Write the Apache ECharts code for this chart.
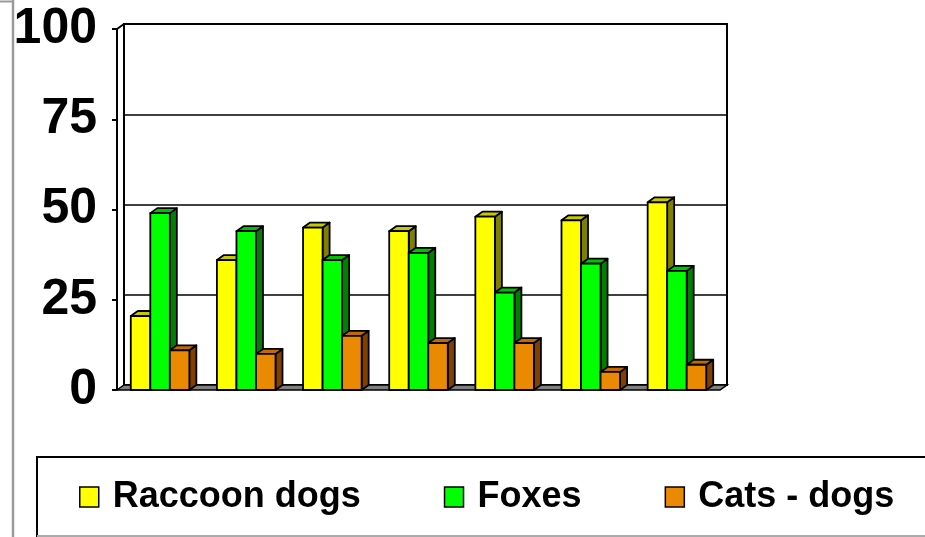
<!DOCTYPE html>
<html>
<head>
<meta charset="utf-8">
<script src="https://cdn.jsdelivr.net/npm/echarts@6/dist/echarts.min.js"></script>
<style>
html,body{margin:0;padding:0;background:#fff;}
#chart{width:925px;height:537px;}
</style>
</head>
<body>
<div id="chart"></div>
<script>
var categories = ['1', '2', '3', '4', '5', '6', '7'];
var seriesNames = ['Raccoon dogs', 'Foxes', 'Cats - dogs'];
var raccoonDogs = [20.5, 36, 45, 44, 48, 47, 52];
var foxes = [49, 44, 36, 38, 27, 35, 33];
var catsDogs = [11, 10, 15, 13, 13, 5, 7];
var yTicks = [0, 25, 50, 75, 100];

var faceColors = [
  {front: '#FFFF00', top: '#C8C800', side: '#808000'},
  {front: '#00FF00', top: '#00C000', side: '#008000'},
  {front: '#EA8A00', top: '#C06A00', side: '#804000'}
];
var DX = 7, DY = -5;
var BAR_SHARE = 0.68;

function barRender(si) {
  return function (params, api) {
    var cat = api.value(0), val = api.value(1);
    var base = api.coord([cat, 0]);
    var top = api.coord([cat, val]);
    var band = api.size([1, 0])[0];
    var bw = band * BAR_SHARE / 3;
    var x0 = base[0] - 1.5 * bw + si * bw;
    var ty = top[1], by = base[1];
    var c = faceColors[si];
    var st = {stroke: '#000', lineWidth: 1.8, lineJoin: 'round'};
    return {
      type: 'group',
      children: [
        {type: 'polygon', shape: {points: [[x0 + bw, ty], [x0 + bw + DX, ty + DY], [x0 + bw + DX, by + DY], [x0 + bw, by]]},
         style: Object.assign({fill: c.side}, st)},
        {type: 'polygon', shape: {points: [[x0, ty], [x0 + DX, ty + DY], [x0 + bw + DX, ty + DY], [x0 + bw, ty]]},
         style: Object.assign({fill: c.top}, st)},
        {type: 'rect', shape: {x: x0, y: ty, width: bw, height: by - ty},
         style: Object.assign({fill: c.front}, st)}
      ]
    };
  };
}

function frameRender(params, api) {
  var cs = params.coordSys;
  var x = cs.x, y = cs.y, w = cs.width, h = cs.height;
  return {
    type: 'group',
    children: [
      {type: 'polygon', shape: {points: [[x, y + h], [x + w, y + h], [x + w + DX, y + h + DY], [x + DX, y + h + DY]]},
       style: {fill: '#808080', stroke: '#000', lineWidth: 1.5}},
      {type: 'line', shape: {x1: x, y1: y, x2: x + DX, y2: y + DY},
       style: {stroke: '#000', lineWidth: 2}}
    ]
  };
}

var dataSets = [raccoonDogs, foxes, catsDogs];
var series = [{
  type: 'custom', name: '_frame', xAxisIndex: 0, yAxisIndex: 0,
  renderItem: frameRender, data: [[0, 0]], z: 1, silent: true, clip: false
}];
dataSets.forEach(function (arr, si) {
  series.push({
    type: 'custom', name: seriesNames[si], xAxisIndex: 0, yAxisIndex: 0,
    renderItem: barRender(si), z: 2 + si, clip: false,
    itemStyle: {color: faceColors[si].front, borderColor: '#000', borderWidth: 1.5},
    encode: {x: 0, y: 1},
    data: arr.map(function (v, i) { return [i, v]; })
  });
});

var chart = echarts.init(document.getElementById('chart'), null, {renderer: 'canvas'});
chart.setOption({
  backgroundColor: '#fff',
  animation: false,
  grid: [
    {left: 117, top: 29, right: 205, bottom: 147, show: false},
    {left: 124, top: 24, right: 198, bottom: 152, show: true, borderColor: '#000', borderWidth: 2, backgroundColor: 'transparent'}
  ],
  xAxis: [
    {type: 'category', gridIndex: 0, data: categories, axisLine: {show: false}, axisTick: {show: false}, axisLabel: {show: false}, splitLine: {show: false}},
    {type: 'category', gridIndex: 1, data: categories, show: false}
  ],
  yAxis: [
    {type: 'value', gridIndex: 0, min: 0, max: 100, interval: 25,
     axisLine: {show: true, lineStyle: {color: '#000', width: 2}},
     axisTick: {show: true, length: 5, lineStyle: {color: '#000', width: 2}},
     axisLabel: {show: true, margin: 20, color: '#000', fontSize: 50, fontWeight: 'bold', fontFamily: 'Liberation Sans, Arial, sans-serif',
       formatter: function (v) { return yTicks.indexOf(v) >= 0 ? String(v) : ''; }},
     splitLine: {show: false}},
    {type: 'value', gridIndex: 1, min: 0, max: 100, interval: 25,
     axisLine: {show: false}, axisTick: {show: false}, axisLabel: {show: false},
     splitLine: {show: true, lineStyle: {color: '#000', width: 1.6}}}
  ],
  legend: {
    data: seriesNames,
    left: 79, top: 477, padding: 0,
    icon: 'rect', itemWidth: 19, itemHeight: 20, itemGap: 83,
    itemStyle: {borderColor: '#000', borderWidth: 1.5},
    textStyle: {fontSize: 36, fontWeight: 'bold', color: '#000', fontFamily: 'Liberation Sans, Arial, sans-serif', lineHeight: 40, padding: [0, 0, 0, 9]},
    selectedMode: false
  },
  graphic: [
    {type: 'line', shape: {x1: 13, y1: 0, x2: 13, y2: 537}, style: {stroke: '#9a9a9a', lineWidth: 2.5}, z: 0},
    {type: 'line', shape: {x1: 0, y1: 1.5, x2: 13, y2: 1.5}, style: {stroke: '#9a9a9a', lineWidth: 2}, z: 0},
    {type: 'rect', shape: {x: 37, y: 457, width: 920, height: 79}, style: {fill: 'transparent', stroke: '#000', lineWidth: 2}, z: 0},
    {type: 'line', shape: {x1: 37, y1: 536, x2: 925, y2: 536}, style: {stroke: '#aaaaaa', lineWidth: 2}, z: 1}
  ],
  series: series
});
</script>
</body>
</html>
